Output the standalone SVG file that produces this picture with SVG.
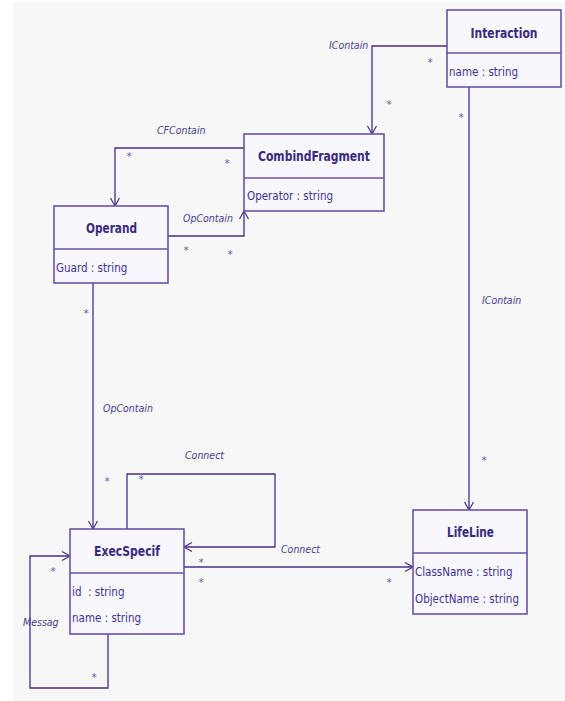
<svg xmlns="http://www.w3.org/2000/svg" width="565" height="701" viewBox="0 0 565 701">
<defs>
<marker id="open" markerWidth="12" markerHeight="12" refX="9" refY="5" orient="auto" markerUnits="userSpaceOnUse">
<path d="M1,0.5 L9,5 L1,9.5" fill="none" stroke="#4a2e8c" stroke-width="1.2"/>
</marker>
<style>
.box{fill:#f7f7fd;stroke:#6a52a8;stroke-width:1.6}
.div{stroke:#6a52a8;stroke-width:1.6}
.title{font-family:"DejaVu Sans Condensed","DejaVu Sans",sans-serif;font-weight:bold;font-size:14.5px;fill:#3a2a7e;text-anchor:middle}
.attr{font-family:"DejaVu Sans Condensed","DejaVu Sans",sans-serif;font-size:11.5px;fill:#3e3290}
.lbl{font-family:"DejaVu Sans Condensed","DejaVu Sans",sans-serif;font-style:italic;font-size:10.5px;fill:#4a3c8e}
.star{font-family:"DejaVu Sans",sans-serif;font-size:10.5px;fill:#6a58a8;text-anchor:middle}
.conn{fill:none;stroke:#4a2e8c;stroke-width:1.3}
</style>
</defs>
<rect x="0" y="0" width="565" height="701" fill="#ffffff"/>
<rect x="13" y="2" width="552" height="699" fill="#f7f7f8"/>

<g id="connectors">
<path class="conn" d="M447,46 H372 V134" marker-end="url(#open)"/>
<text class="lbl" x="329" y="49">IContain</text>
<text class="star" x="430" y="66">*</text>
<text class="star" x="389" y="108">*</text>

<path class="conn" d="M469,87 V510" marker-end="url(#open)"/>
<text class="lbl" x="482" y="304">IContain</text>
<text class="star" x="461" y="121">*</text>
<text class="star" x="484" y="464">*</text>

<path class="conn" d="M244,148 H115 V206" marker-end="url(#open)"/>
<text class="lbl" x="157" y="134">CFContain</text>
<text class="star" x="129" y="160">*</text>
<text class="star" x="227" y="167">*</text>

<path class="conn" d="M168,236 H244 V211" marker-end="url(#open)"/>
<text class="lbl" x="183" y="222">OpContain</text>
<text class="star" x="186" y="254">*</text>
<text class="star" x="230" y="258">*</text>

<path class="conn" d="M93,283 V529" marker-end="url(#open)"/>
<text class="lbl" x="103" y="412">OpContain</text>
<text class="star" x="86" y="317">*</text>
<text class="star" x="107" y="485">*</text>

<path class="conn" d="M127,529 V474 H275 V547 H184" marker-end="url(#open)"/>
<text class="lbl" x="185" y="459">Connect</text>
<text class="star" x="141" y="483">*</text>

<path class="conn" d="M184,567 H413" marker-end="url(#open)"/>
<text class="lbl" x="281" y="553">Connect</text>
<text class="star" x="201" y="566">*</text>
<text class="star" x="201" y="586">*</text>
<text class="star" x="389" y="586">*</text>

<path class="conn" d="M108,634 V688 H30 V556 H70" marker-end="url(#open)"/>
<text class="lbl" x="23" y="626">Messag</text>
<text class="star" x="53" y="575">*</text>
<text class="star" x="94" y="681">*</text>
</g>

<g id="Interaction">
<rect class="box" x="447" y="10" width="114" height="77"/>
<line class="div" x1="447" y1="53" x2="561" y2="53"/>
<text class="title" x="504" y="38" textLength="67" lengthAdjust="spacingAndGlyphs">Interaction</text>
<text class="attr" x="449" y="76">name : string</text>
</g>

<g id="CombindFragment">
<rect class="box" x="244" y="134" width="140" height="77"/>
<line class="div" x1="244" y1="178" x2="384" y2="178"/>
<text class="title" x="314" y="161" textLength="112" lengthAdjust="spacingAndGlyphs">CombindFragment</text>
<text class="attr" x="247" y="200">Operator : string</text>
</g>

<g id="Operand">
<rect class="box" x="54" y="206" width="114" height="77"/>
<line class="div" x1="54" y1="249" x2="168" y2="249"/>
<text class="title" x="111.5" y="233" textLength="51" lengthAdjust="spacingAndGlyphs">Operand</text>
<text class="attr" x="56" y="272">Guard : string</text>
</g>

<g id="ExecSpecif">
<rect class="box" x="70" y="529" width="114" height="105"/>
<line class="div" x1="70" y1="573" x2="184" y2="573"/>
<text class="title" x="127" y="556" textLength="66" lengthAdjust="spacingAndGlyphs">ExecSpecif</text>
<text class="attr" x="72" y="596" xml:space="preserve">id  : string</text>
<text class="attr" x="72" y="622">name : string</text>
</g>

<g id="LifeLine">
<rect class="box" x="413" y="510" width="114" height="104"/>
<line class="div" x1="413" y1="553" x2="527" y2="553"/>
<text class="title" x="470.5" y="537" textLength="47" lengthAdjust="spacingAndGlyphs">LifeLine</text>
<text class="attr" x="415" y="576">ClassName : string</text>
<text class="attr" x="415" y="603">ObjectName : string</text>
</g>
</svg>
